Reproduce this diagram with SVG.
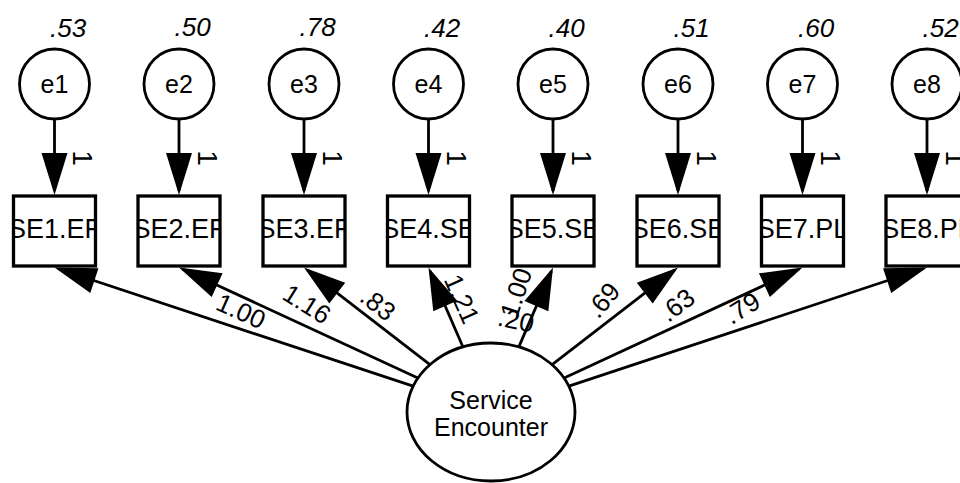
<svg xmlns="http://www.w3.org/2000/svg" width="960" height="483" viewBox="0 0 960 483">
  <style>
    .err{fill:#fff;stroke:#000;stroke-width:2.8}
    .obs{fill:#fff;stroke:#000;stroke-width:3.3}
    .lat{fill:#fff;stroke:#000;stroke-width:2.8}
    .path{stroke:#000;stroke-width:2.8;fill:none;marker-end:url(#ah)}
    text{font-family:"Liberation Sans",Arial,Helvetica,sans-serif;fill:#000}
    .nm{font-size:25px;text-anchor:middle}
    .bx{font-size:27px;text-anchor:middle}
    .lt{font-size:25px;text-anchor:middle}
    .var{font-size:26px;font-style:italic}
    .one{font-size:28px;text-anchor:middle}
    .est{font-size:26px;text-anchor:middle}
  </style>
  <defs>
    <marker id="ah" markerUnits="userSpaceOnUse" viewBox="-46 -14 47 28" markerWidth="47" markerHeight="28" refX="-4" refY="0" orient="auto">
      <path d="M0,0 L-42,-13 L-42,13 Z" fill="#000"/>
    </marker>
  </defs>

  <!-- regression paths -->
  <g id="connectors">
    <line class="path" x1="54.5" y1="119" x2="54.5" y2="191"/>
    <line class="path" x1="179" y1="119" x2="179" y2="191"/>
    <line class="path" x1="304" y1="119" x2="304" y2="191"/>
    <line class="path" x1="428.5" y1="119" x2="428.5" y2="191"/>
    <line class="path" x1="553" y1="119" x2="553" y2="191"/>
    <line class="path" x1="678" y1="119" x2="678" y2="191"/>
    <line class="path" x1="802.5" y1="119" x2="802.5" y2="191"/>
    <line class="path" x1="927" y1="119" x2="927" y2="191"/>

    <line class="path" x1="413.13" y1="386.13" x2="58.30" y2="268.76"/>
    <line class="path" x1="417.89" y1="378.02" x2="182.63" y2="269.18"/>
    <line class="path" x1="429.92" y1="364.64" x2="307.17" y2="269.94"/>
    <line class="path" x1="462.96" y1="346.96" x2="430.09" y2="271.17"/>
    <line class="path" x1="518.84" y1="346.90" x2="551.42" y2="271.17"/>
    <line class="path" x1="552.08" y1="364.64" x2="674.83" y2="269.94"/>
    <line class="path" x1="564.08" y1="377.98" x2="798.87" y2="269.18"/>
    <line class="path" x1="568.86" y1="386.11" x2="923.20" y2="268.76"/>
  </g>

  <!-- error terms -->
  <g id="e1"><circle class="err" cx="54.5" cy="84" r="35"/><text class="nm" x="54.5" y="93">e1</text><text class="var" x="50" y="37">.53</text></g>
  <g id="e2"><circle class="err" cx="179" cy="84" r="35"/><text class="nm" x="179" y="93">e2</text><text class="var" x="174.5" y="36">.50</text></g>
  <g id="e3"><circle class="err" cx="304" cy="84" r="35"/><text class="nm" x="304" y="93">e3</text><text class="var" x="299.5" y="36">.78</text></g>
  <g id="e4"><circle class="err" cx="428.5" cy="84" r="35"/><text class="nm" x="428.5" y="93">e4</text><text class="var" x="424" y="37">.42</text></g>
  <g id="e5"><circle class="err" cx="553" cy="84" r="35"/><text class="nm" x="553" y="93">e5</text><text class="var" x="548.5" y="37">.40</text></g>
  <g id="e6"><circle class="err" cx="678" cy="84" r="35"/><text class="nm" x="678" y="93">e6</text><text class="var" x="673.5" y="37">.51</text></g>
  <g id="e7"><circle class="err" cx="802.5" cy="84" r="35"/><text class="nm" x="802.5" y="93">e7</text><text class="var" x="798" y="37">.60</text></g>
  <g id="e8"><circle class="err" cx="927" cy="84" r="35"/><text class="nm" x="927" y="93">e8</text><text class="var" x="922.5" y="37">.52</text></g>

  <!-- observed indicators -->
  <g id="SE1"><rect class="obs" x="13.5" y="196" width="82" height="70"/><svg x="14.5" y="197" width="80" height="68"><text class="bx" x="40" y="41">SE1.EF</text></svg></g>
  <g id="SE2"><rect class="obs" x="138" y="196" width="82" height="70"/><svg x="139" y="197" width="80" height="68"><text class="bx" x="40" y="41">SE2.EF</text></svg></g>
  <g id="SE3"><rect class="obs" x="263" y="196" width="82" height="70"/><svg x="264" y="197" width="80" height="68"><text class="bx" x="40" y="41">SE3.EF</text></svg></g>
  <g id="SE4"><rect class="obs" x="387.5" y="196" width="82" height="70"/><svg x="388.5" y="197" width="80" height="68"><text class="bx" x="40" y="41">SE4.SE</text></svg></g>
  <g id="SE5"><rect class="obs" x="512" y="196" width="82" height="70"/><svg x="513" y="197" width="80" height="68"><text class="bx" x="40" y="41">SE5.SE</text></svg></g>
  <g id="SE6"><rect class="obs" x="637" y="196" width="82" height="70"/><svg x="638" y="197" width="80" height="68"><text class="bx" x="40" y="41">SE6.SE</text></svg></g>
  <g id="SE7"><rect class="obs" x="761.5" y="196" width="82" height="70"/><svg x="762.5" y="197" width="80" height="68"><text class="bx" x="40" y="41">SE7.PL</text></svg></g>
  <g id="SE8"><rect class="obs" x="886" y="196" width="82" height="70"/><svg x="887" y="197" width="80" height="68"><text class="bx" x="40" y="41">SE8.PL</text></svg></g>

  <!-- latent factor -->
  <g id="ServiceEncounter">
    <ellipse class="lat" cx="491" cy="412" rx="84" ry="69"/>
    <text class="lt" x="491" y="409">Service</text>
    <text class="lt" x="491" y="436">Encounter</text>
  </g>

  <!-- path estimates -->
  <g id="labels">
    <text class="one" transform="translate(70.5,158) rotate(90)" dy="-0.1em">1</text>
    <text class="one" transform="translate(195,158) rotate(90)" dy="-0.1em">1</text>
    <text class="one" transform="translate(320,158) rotate(90)" dy="-0.1em">1</text>
    <text class="one" transform="translate(444.5,158) rotate(90)" dy="-0.1em">1</text>
    <text class="one" transform="translate(569,158) rotate(90)" dy="-0.1em">1</text>
    <text class="one" transform="translate(694,158) rotate(90)" dy="-0.1em">1</text>
    <text class="one" transform="translate(818.5,158) rotate(90)" dy="-0.1em">1</text>
    <text class="one" transform="translate(943,158) rotate(90)" dy="-0.1em">1</text>

    <text class="est" transform="translate(241,311) rotate(24)" dy="0.35em">1.00</text>
    <text class="est" transform="translate(307,304) rotate(32)" dy="0.35em">1.16</text>
    <text class="est" transform="translate(378,304) rotate(38)" dy="0.35em">.83</text>
    <text class="est" transform="translate(462,299) rotate(66)" dy="0.35em">1.21</text>
    <text class="est" transform="translate(516,293) rotate(-72)" dy="0.35em">1.00</text>
    <text class="est" transform="translate(516,320) rotate(12)" dy="0.35em">.20</text>
    <text class="est" transform="translate(603,300) rotate(-50)" dy="0.35em">.69</text>
    <text class="est" transform="translate(677,305) rotate(-38)" dy="0.35em">.63</text>
    <text class="est" transform="translate(742,308) rotate(-32)" dy="0.35em">.79</text>
  </g>
</svg>
